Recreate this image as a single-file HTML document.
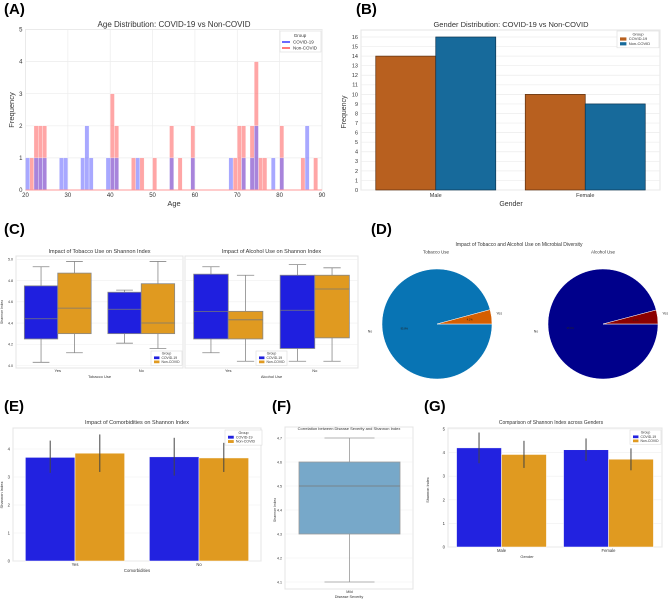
<!DOCTYPE html>
<html><head><meta charset="utf-8">
<style>
html,body{margin:0;padding:0;background:#fff;}
svg{display:block;font-family:"Liberation Sans","DejaVu Sans",sans-serif;}
</style></head>
<body>
<svg id="fig" width="669" height="600" viewBox="0 0 669 600"></svg>
<script>
// ---- Panel A data (age histogram, bin width 1) ----
const covidAges = [20,22,23,24,28,29,33,34,35,39,40,41,46,54,59,68,71,73,74,78,80,86];
const covidAgeCounts = [1,1,1,1,1,1,1,2,1,1,1,1,1,1,1,1,1,1,2,1,1,2];
const nonCovidAges = [21,22,23,24,40,41,45,47,50,54,56,59,69,70,71,73,74,75,76,80,85,88];
const nonCovidAgeCounts = [1,2,2,2,3,2,1,1,1,2,1,2,1,2,2,2,4,1,1,2,1,1];
const ageTicks = [20,30,40,50,60,70,80,90];
const freqTicksA = [0,1,2,3,4,5];
// ---- Panel B ----
const genderCats = ["Male","Female"];
const genderCovid = [14,10];
const genderNonCovid = [16,9];
const freqTicksB = [0,1,2,3,4,5,6,7,8,9,10,11,12,13,14,15,16];
// ---- Panel C (boxplots: [whiskLo,q1,median,q3,whiskHi]) ----
const useCats = ["Yes","No"];
const tobaccoCovid = [[4.03,4.25,4.44,4.75,4.93],[4.21,4.30,4.53,4.69,4.71]];
const tobaccoNonCovid = [[4.12,4.30,4.54,4.87,4.98],[4.16,4.30,4.40,4.77,4.98]];
const alcoholCovid = [[4.12,4.25,4.51,4.86,4.93],[4.04,4.16,4.52,4.85,4.95]];
const alcoholNonCovid = [[4.04,4.25,4.43,4.51,4.85],[4.04,4.26,4.72,4.85,4.92]];
const shannonTicksC = [4.0,4.2,4.4,4.6,4.8,5.0];
// ---- Panel D ----
const tobaccoPie = [95.8,4.2];
const alcoholPie = [95.9,4.1];
const pieLabels = ["No","Yes"];
// ---- Panel E ----
const comorbCats = ["Yes","No"];
const comorbCovid = [3.70,3.72];
const comorbNonCovid = [3.85,3.68];
const comorbCovidErr = [[3.15,4.30],[3.05,4.40]];
const comorbNonCovidErr = [[3.18,4.52],[3.18,4.22]];
const ticksE = [0,1,2,3,4];
// ---- Panel F ----
const severityCats = ["Mild"];
const severityBox = [[4.1,4.3,4.5,4.6,4.7]];
const ticksF = [4.1,4.2,4.3,4.4,4.5,4.6,4.7];
// ---- Panel G ----
const genderCatsG = ["Male","Female"];
const gCovid = [4.20,4.12];
const gNonCovid = [3.92,3.72];
const gCovidErr = [[3.55,4.85],[3.65,4.60]];
const gNonCovidErr = [[3.35,4.50],[3.25,4.18]];
const ticksG = [0,1,2,3,4,5];

const NS = "http://www.w3.org/2000/svg";
const svg = document.getElementById("fig");
function el(tag, attrs, name, parent){
  const e = document.createElementNS(NS, tag);
  for (const k in attrs) e.setAttribute(k, attrs[k]);
  
  
  (parent||svg).appendChild(e);
  return e;
}
function txt(x,y,s,size,name,opts){
  opts=opts||{};
  const a={x:x,y:y,'font-size':size,fill:opts.fill||'#333','text-anchor':opts.anchor||'middle'};
  if(opts.weight) a['font-weight']=opts.weight;
  if(opts.rot!==undefined) a.transform='rotate('+opts.rot+' '+x+' '+y+')';
  const t=el('text',a,name);
  t.textContent=s;
  return t;
}
function lin(d0,d1,r0,r1){return v=>r0+(v-d0)*(r1-r0)/(d1-d0);}
function frame(x0,y0,x1,y1,name){
  el('rect',{x:x0,y:y0,width:x1-x0,height:y1-y0,fill:'#fff',stroke:'#e4e4e4','stroke-width':1},name);
}
function hgrid(ticks,y,x0,x1,prefix,fs,dec){
  ticks.forEach(t=>{
    el('line',{x1:x0,x2:x1,y1:y(t),y2:y(t),stroke:'#ececec','stroke-width':0.7},prefix+'-gridline');
    txt(x0-3,y(t)+fs*0.35,dec!==undefined?t.toFixed(dec):String(t),fs,prefix+'-tick-label',{anchor:'end'});
  });
}
function legend(x,y,w,c1,c2,fs,name){
  el('rect',{x:x,y:y,width:w,height:fs*4.2,fill:'#fff',stroke:'#ddd','stroke-width':0.6},name);
  txt(x+w/2,y+fs*1.1,'Group',fs,name+'-title');
  el('rect',{x:x+3,y:y+fs*1.6,width:fs*1.6,height:fs*0.8,fill:c1},name+'-swatch-covid');
  txt(x+fs*2.2+3,y+fs*2.3,'COVID-19',fs,name+'-label-covid',{anchor:'start'});
  el('rect',{x:x+3,y:y+fs*2.8,width:fs*1.6,height:fs*0.8,fill:c2},name+'-swatch-noncovid');
  txt(x+fs*2.2+3,y+fs*3.5,'Non-COVID',fs,name+'-label-noncovid',{anchor:'start'});
}
function panelLabel(x,y,s,name){txt(x,y,s,15,name,{anchor:'start',weight:'bold',fill:'#000'});}

// ===== Panel A =====
panelLabel(4,14,'(A)','panel-a-label');
{
  const x=lin(20,90,25.5,322), y=lin(0,5,190,29.5);
  frame(25.5,29.5,322,190,'panel-a-plot-area');
  ageTicks.forEach(t=>{
    el('line',{x1:x(t),x2:x(t),y1:29.5,y2:190,stroke:'#ececec','stroke-width':0.7},'panel-a-vgrid');
    txt(x(t),197,String(t),6,'panel-a-x-tick');
  });
  hgrid(freqTicksA,y,25.5,322,'panel-a-y',6);
  nonCovidAges.forEach((a,i)=>{
    el('rect',{x:x(a),y:y(nonCovidAgeCounts[i]),width:x(a+1)-x(a),height:y(0)-y(nonCovidAgeCounts[i]),fill:'#ff6b6b','fill-opacity':0.6,stroke:'#fff','stroke-width':0.3},'bar-noncovid-age-'+a);
  });
  covidAges.forEach((a,i)=>{
    el('rect',{x:x(a),y:y(covidAgeCounts[i]),width:x(a+1)-x(a),height:y(0)-y(covidAgeCounts[i]),fill:'#6e6eff','fill-opacity':0.6,stroke:'#fff','stroke-width':0.3},'bar-covid-age-'+a);
  });
  el('line',{x1:25.5,x2:322,y1:190,y2:190,stroke:'#ff9a9a','stroke-width':1},'panel-a-baseline');
  txt(174,27,'Age Distribution: COVID-19 vs Non-COVID',8,'panel-a-title');
  txt(174,206,'Age',7.5,'panel-a-x-title');
  txt(14,110,'Frequency',7.5,'panel-a-y-title',{rot:-90});
  el('rect',{x:280,y:31,width:41,height:21,fill:'#fff',stroke:'#ddd','stroke-width':0.6},'panel-a-legend');
  txt(300,37,'Group',4.5,'panel-a-legend-title');
  el('line',{x1:282,x2:290,y1:42,y2:42,stroke:'#6a6aff','stroke-width':2},'panel-a-legend-covid-swatch');
  txt(293,43.5,'COVID-19',4.5,'panel-a-legend-covid',{anchor:'start'});
  el('line',{x1:282,x2:290,y1:48,y2:48,stroke:'#ff7a7a','stroke-width':2},'panel-a-legend-noncovid-swatch');
  txt(293,49.5,'Non-COVID',4.5,'panel-a-legend-noncovid',{anchor:'start'});
}

// ===== Panel B =====
panelLabel(356,14,'(B)','panel-b-label');
{
  const x0=361,x1=660, y=lin(0,16,190,37);
  frame(x0,30,x1,190,'panel-b-plot-area');
  hgrid(freqTicksB,y,x0,x1,'panel-b-y',5.5);
  const bw=60, step=(x1-x0)/genderCats.length;
  genderCats.forEach((c,i)=>{
    const cx=x0+step*(i+0.5);
    el('rect',{x:cx-bw,y:y(genderCovid[i]),width:bw,height:y(0)-y(genderCovid[i]),fill:'#b8601f',stroke:'#5a3010','stroke-width':0.7},'bar-covid-'+c.toLowerCase());
    el('rect',{x:cx,y:y(genderNonCovid[i]),width:bw,height:y(0)-y(genderNonCovid[i]),fill:'#176a9b',stroke:'#0d3550','stroke-width':0.7},'bar-noncovid-'+c.toLowerCase());
    txt(cx,197,c,5.5,'panel-b-x-tick');
  });
  txt(511,27,'Gender Distribution: COVID-19 vs Non-COVID',7.5,'panel-b-title');
  txt(511,206,'Gender',7,'panel-b-x-title');
  txt(346,112,'Frequency',7,'panel-b-y-title',{rot:-90});
  legend(617,31,42,'#b8601f','#176a9b',4,'panel-b-legend');
}

// ===== Panel C =====
panelLabel(4,234,'(C)','panel-c-label');
function boxPanel(x0,x1,y,data1,data2,cats,title,xtitle,key,legX){
  frame(x0,256,x1,368,key+'-plot-area');
  shannonTicksC.forEach(t=>{
    el('line',{x1:x0,x2:x1,y1:y(t),y2:y(t),stroke:'#efefef','stroke-width':0.6},key+'-gridline');
  });
  const step=(x1-x0)/cats.length, bw=step*0.4;
  [data1,data2].forEach((d,gi)=>{
    d.forEach((b,i)=>{
      const bx=x0+step*(i+0.5)+(gi===0?-bw:0);
      const col=gi===0?'#1f1fdf':'#e09a20';
      const mx=bx+bw/2;
      el('line',{x1:mx,x2:mx,y1:y(b[0]),y2:y(b[4]),stroke:'#888','stroke-width':0.8},key+'-whisker');
      el('line',{x1:mx-bw/4,x2:mx+bw/4,y1:y(b[0]),y2:y(b[0]),stroke:'#888','stroke-width':0.8},key+'-cap-low');
      el('line',{x1:mx-bw/4,x2:mx+bw/4,y1:y(b[4]),y2:y(b[4]),stroke:'#888','stroke-width':0.8},key+'-cap-high');
      el('rect',{x:bx,y:y(b[3]),width:bw,height:y(b[1])-y(b[3]),fill:col,stroke:'#888','stroke-width':0.8},key+'-box-'+(gi===0?'covid':'noncovid')+'-'+cats[i].toLowerCase());
      el('line',{x1:bx,x2:bx+bw,y1:y(b[2]),y2:y(b[2]),stroke:'#777','stroke-width':0.8},key+'-median');
    });
  });
  cats.forEach((c,i)=>txt(x0+step*(i+0.5),372,c,4,key+'-x-tick'));
  txt((x0+x1)/2,253,title,5.5,key+'-title');
  txt((x0+x1)/2,378,xtitle,4,key+'-x-title');
  legend(legX,351,31,'#1f1fdf','#e09a20',3.4,key+'-legend');
}
{
  const y=lin(4.0,5.0,365.5,259.3);
  boxPanel(16,183,y,tobaccoCovid,tobaccoNonCovid,useCats,'Impact of Tobacco Use on Shannon Index','Tobacco Use','panel-c-tobacco',151);
  shannonTicksC.forEach(t=>txt(13,y(t)+1.3,t.toFixed(1),3.6,'panel-c-y-tick',{anchor:'end'}));
  txt(3,312,'Shannon Index',3.6,'panel-c-y-title',{rot:-90});
  boxPanel(185,358,y,alcoholCovid,alcoholNonCovid,useCats,'Impact of Alcohol Use on Shannon Index','Alcohol Use','panel-c-alcohol',256);
}

// ===== Panel D =====
panelLabel(371,234,'(D)','panel-d-label');
function pie(cx,cy,r,vals,cols,key){
  const total=vals.reduce((s,v)=>s+v,0);
  const yesAng=vals[1]/total*2*Math.PI;
  const p=(a)=>[cx+r*Math.cos(a),cy-r*Math.sin(a)];
  const [yx,yy]=p(yesAng);
  el('path',{d:`M${cx},${cy} L${cx+r},${cy} A${r},${r} 0 1,1 ${yx},${yy} Z`,fill:cols[0],stroke:'#fff','stroke-width':0.5},key+'-slice-no');
  el('path',{d:`M${cx},${cy} L${cx+r},${cy} A${r},${r} 0 0,0 ${yx},${yy} Z`,fill:cols[1],stroke:'#fff','stroke-width':0.5},key+'-slice-yes');
  const mid=Math.PI+yesAng/2;
  txt(cx+r*0.6*Math.cos(mid),cy-r*0.6*Math.sin(mid)+1,vals[0].toFixed(1)+'%',2.6,key+'-pct-no',{fill:'#222'});
  txt(cx+r*0.6*Math.cos(yesAng/2),cy-r*0.6*Math.sin(yesAng/2)+1,vals[1].toFixed(1)+'%',2.6,key+'-pct-yes',{fill:'#222'});
  txt(cx-r*1.1*1.07,cy+r*0.15,pieLabels[0],3.5,key+'-label-no',{anchor:'end'});
  txt(cx+r*1.08,cy-r*0.17,pieLabels[1],3.5,key+'-label-yes',{anchor:'start'});
}
txt(519,246,'Impact of Tobacco and Alcohol Use on Microbial Diversity',5,'panel-d-title');
txt(436,253.5,'Tobacco Use',4.5,'panel-d-tobacco-title');
txt(603,253.5,'Alcohol Use',4.5,'panel-d-alcohol-title');
pie(437,324,55,tobaccoPie,['#0874b4','#d55e00'],'pie-tobacco');
pie(603,324,55,alcoholPie,['#00008b','#8b0000'],'pie-alcohol');

// ===== Panel E =====
panelLabel(4,411,'(E)','panel-e-label');
function barPanel(x0,x1,yt,yb,y,cats,v1,v2,e1,e2,ticks,key,bwFrac){
  frame(x0,yt,x1,yb,key+'-plot-area');
  ticks.forEach(t=>{
    el('line',{x1:x0,x2:x1,y1:y(t),y2:y(t),stroke:'#efefef','stroke-width':0.6},key+'-gridline');
    txt(x0-3,y(t)+1.5,String(t),4.2,key+'-y-tick',{anchor:'end'});
  });
  const step=(x1-x0)/cats.length, bw=step*bwFrac;
  cats.forEach((c,i)=>{
    const cx=x0+step*(i+0.5);
    el('rect',{x:cx-bw,y:y(v1[i]),width:bw,height:y(0)-y(v1[i]),fill:'#2222e0',stroke:'#fff','stroke-width':0.5},key+'-bar-covid-'+c.toLowerCase());
    el('rect',{x:cx,y:y(v2[i]),width:bw,height:y(0)-y(v2[i]),fill:'#e09a20',stroke:'#fff','stroke-width':0.5},key+'-bar-noncovid-'+c.toLowerCase());
    el('line',{x1:cx-bw/2,x2:cx-bw/2,y1:y(e1[i][0]),y2:y(e1[i][1]),stroke:'#444','stroke-width':1},key+'-errorbar-covid');
    el('line',{x1:cx+bw/2,x2:cx+bw/2,y1:y(e2[i][0]),y2:y(e2[i][1]),stroke:'#444','stroke-width':1},key+'-errorbar-noncovid');
    txt(cx,yb+5,c,4.2,key+'-x-tick');
  });
}
{
  const y=lin(0,4,561,449);
  barPanel(13,261,428,561,y,comorbCats,comorbCovid,comorbNonCovid,comorbCovidErr,comorbNonCovidErr,ticksE,'panel-e',0.4);
  txt(137,424,'Impact of Comorbidities on Shannon Index',5.5,'panel-e-title');
  txt(137,572,'Comorbidities',4.3,'panel-e-x-title');
  txt(3,495,'Shannon Index',4,'panel-e-y-title',{rot:-90});
  legend(225,430,37,'#2222e0','#e09a20',3.6,'panel-e-legend');
}

// ===== Panel F =====
panelLabel(272,411,'(F)','panel-f-label');
{
  const y=lin(4.1,4.7,582,438);
  frame(285,427,413,589,'panel-f-plot-area');
  ticksF.forEach(t=>{
    el('line',{x1:285,x2:413,y1:y(t),y2:y(t),stroke:'#efefef','stroke-width':0.6},'panel-f-gridline');
    txt(282,y(t)+1.3,t.toFixed(1),3.6,'panel-f-y-tick',{anchor:'end'});
  });
  severityBox.forEach((b,i)=>{
    const bx=299,bw=101,mx=bx+bw/2;
    el('line',{x1:mx,x2:mx,y1:y(b[0]),y2:y(b[4]),stroke:'#999','stroke-width':0.8},'panel-f-whisker');
    el('line',{x1:mx-25,x2:mx+25,y1:y(b[0]),y2:y(b[0]),stroke:'#999','stroke-width':0.8},'panel-f-cap-low');
    el('line',{x1:mx-25,x2:mx+25,y1:y(b[4]),y2:y(b[4]),stroke:'#999','stroke-width':0.8},'panel-f-cap-high');
    el('rect',{x:bx,y:y(b[3]),width:bw,height:y(b[1])-y(b[3]),fill:'#77a8c9',stroke:'#999','stroke-width':0.8},'panel-f-box-'+severityCats[i].toLowerCase());
    el('line',{x1:bx,x2:bx+bw,y1:y(b[2]),y2:y(b[2]),stroke:'#777','stroke-width':0.8},'panel-f-median');
    txt(mx,593,severityCats[i],3.6,'panel-f-x-tick');
  });
  txt(349,430,'Correlation between Disease Severity and Shannon Index',4,'panel-f-title');
  txt(349,598,'Disease Severity',3.8,'panel-f-x-title');
  txt(276,510,'Shannon Index',3.6,'panel-f-y-title',{rot:-90});
}

// ===== Panel G =====
panelLabel(424,411,'(G)','panel-g-label');
{
  const y=lin(0,5,547,429);
  barPanel(448,662,428,547,y,genderCatsG,gCovid,gNonCovid,gCovidErr,gNonCovidErr,ticksG,'panel-g',0.42);
  txt(551,424,'Comparison of Shannon Index across Genders',5,'panel-g-title');
  txt(527,558,'Gender',4,'panel-g-x-title');
  txt(429,490,'Shannon Index',3.8,'panel-g-y-title',{rot:-90});
  legend(630,430,31,'#2222e0','#e09a20',3.4,'panel-g-legend');
}
</script>
</body></html>
